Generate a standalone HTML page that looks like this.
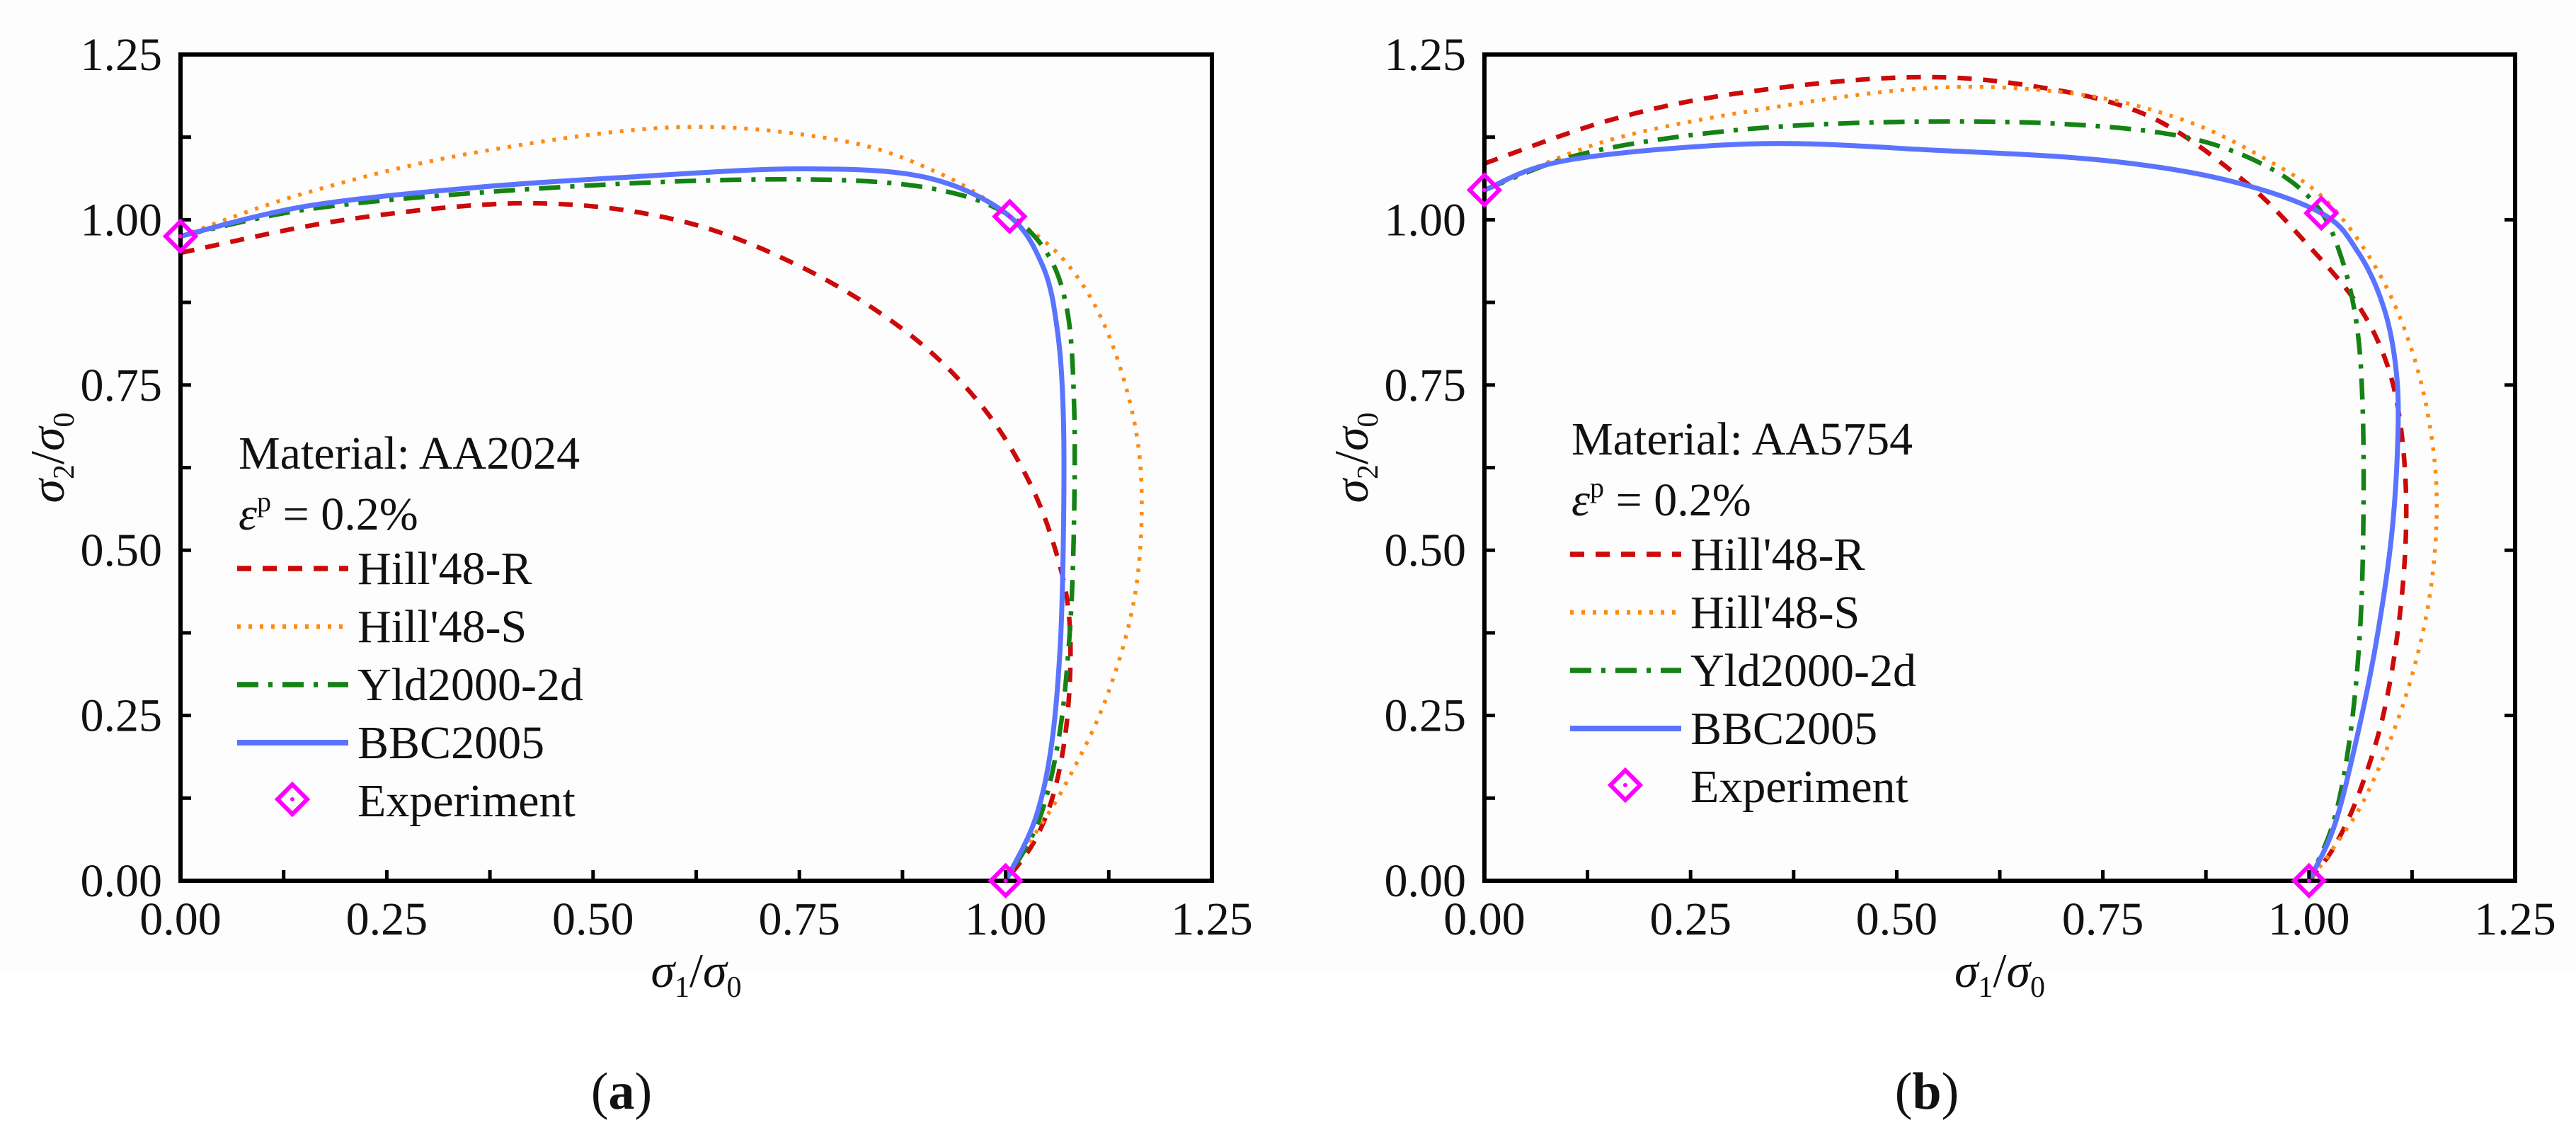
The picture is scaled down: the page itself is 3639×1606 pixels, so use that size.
<!DOCTYPE html>
<html><head><meta charset="utf-8">
<style>
html,body{margin:0;padding:0;background:#fff;}
svg{display:block;}
text{font-family:"Liberation Serif",serif;fill:#111;}
</style></head>
<body>
<svg id="fig" width="3639" height="1606" viewBox="0 0 3639 1606" xmlns="http://www.w3.org/2000/svg">
<rect x="0" y="0" width="3639" height="1376" fill="#fdfdfd"/>
</svg>
<script>
// ---- Data (panel a: AA2024) ----
const xTicks = [0, 0.25, 0.5, 0.75, 1.0, 1.25];
const yTicks = [0, 0.25, 0.5, 0.75, 1.0, 1.25];
const tickLabels = ["0.00","0.25","0.50","0.75","1.00","1.25"];
const seriesNames = ["Hill'48-R","Hill'48-S","Yld2000-2d","BBC2005"];

const aHillR_x = [0,0.2,0.42,0.6,0.75,0.88,0.97,1.03,1.065,1.078,1.075,1.06,1.035,1.0];
const aHillR_y = [0.95,1.0,1.025,1.0,0.93,0.83,0.72,0.6,0.48,0.38,0.25,0.14,0.06,0];
const aHillS_x = [0,0.15,0.35,0.6,0.8,0.92,1.0,1.07,1.12,1.155,1.165,1.155,1.12,1.07,1.03,1.0];
const aHillS_y = [0.975,1.04,1.1,1.14,1.12,1.07,1.01,0.94,0.84,0.7,0.57,0.42,0.27,0.14,0.06,0];
const aYld_x = [0,0.15,0.35,0.6,0.8,0.92,1.0,1.05,1.075,1.083,1.083,1.078,1.065,1.04,1.0];
const aYld_y = [0.975,1.015,1.04,1.058,1.06,1.045,1.01,0.95,0.86,0.72,0.55,0.38,0.22,0.09,0];
const aBBC_x = [0,0.15,0.35,0.55,0.75,0.9,1.0,1.045,1.063,1.07,1.07,1.066,1.055,1.035,1.0];
const aBBC_y = [0.975,1.02,1.048,1.065,1.077,1.065,1.01,0.93,0.83,0.7,0.52,0.35,0.2,0.09,0];
const aExp_x = [0, 1.005, 1.0];
const aExp_y = [0.975, 1.005, 0.0];

// ---- Data (panel b: AA5754) ----
const bHillR_x = [0,0.15,0.3,0.5,0.65,0.8,0.92,1.0,1.06,1.095,1.112,1.118,1.11,1.09,1.06,1.03,1.0];
const bHillR_y = [1.085,1.15,1.19,1.215,1.205,1.16,1.06,0.96,0.87,0.78,0.68,0.55,0.4,0.25,0.13,0.05,0];
const bHillS_x = [0,0.15,0.35,0.55,0.72,0.85,0.95,1.02,1.08,1.12,1.145,1.155,1.145,1.115,1.07,1.03,1.0];
const bHillS_y = [1.045,1.12,1.17,1.2,1.19,1.15,1.09,1.03,0.93,0.82,0.7,0.57,0.42,0.27,0.13,0.05,0];
const bYld_x = [0,0.12,0.3,0.5,0.7,0.85,0.95,1.01,1.04,1.058,1.065,1.066,1.062,1.05,1.03,1.0];
const bYld_y = [1.045,1.1,1.135,1.148,1.145,1.125,1.08,1.02,0.94,0.84,0.72,0.55,0.38,0.22,0.09,0];
const bBBC_x = [0,0.1,0.33,0.55,0.75,0.9,1.015,1.06,1.09,1.105,1.108,1.1,1.08,1.055,1.03,1.0];
const bBBC_y = [1.045,1.09,1.115,1.105,1.09,1.06,1.01,0.95,0.87,0.78,0.68,0.52,0.35,0.2,0.08,0];
const bExp_x = [0, 1.015, 1.0];
const bExp_y = [1.045, 1.01, 0.0];

const NS = "http://www.w3.org/2000/svg";
const svg = document.getElementById("fig");
function mk(tag, attrs, parent){
  const e = document.createElementNS(NS, tag);
  for (const k in attrs) e.setAttribute(k, attrs[k]);
  (parent||svg).appendChild(e);
  return e;
}
const styles = [
  {color:"#cc0a0a", w:6.5, dash:"20 16"},
  {color:"#ff8a12", w:5.5, dash:"5 11"},
  {color:"#148214", w:6.5, dash:"30 14 6 14"},
  {color:"#5b74ff", w:7, dash:""}
];
function smoothPath(pts){
  let d = "M"+pts[0][0].toFixed(1)+","+pts[0][1].toFixed(1);
  for (let i=0;i<pts.length-1;i++){
    const p0=pts[Math.max(0,i-1)], p1=pts[i], p2=pts[i+1], p3=pts[Math.min(pts.length-1,i+2)];
    const c1=[p1[0]+(p2[0]-p0[0])/6, p1[1]+(p2[1]-p0[1])/6];
    const c2=[p2[0]-(p3[0]-p1[0])/6, p2[1]-(p3[1]-p1[1])/6];
    d+=" C"+c1[0].toFixed(1)+","+c1[1].toFixed(1)+" "+c2[0].toFixed(1)+","+c2[1].toFixed(1)+" "+p2[0].toFixed(1)+","+p2[1].toFixed(1);
  }
  return d;
}
function diamond(g, cx, cy, name){
  const r=21;
  const p = mk("polygon",{points:`${cx},${cy-r} ${cx+r},${cy} ${cx},${cy+r} ${cx-r},${cy}`,fill:"none",stroke:"#ff00ff","stroke-width":6},g);
  
  
  const c = mk("circle",{cx:cx,cy:cy,r:3,fill:"#ff00ff"},g);
  
  
}

function panel(id, L, R, T, B, series, expX, expY, opts){
  const g = mk("g",{});
  
  
  const sx = v => L + (R-L)*v/1.25;
  const sy = v => B - (B-T)*v/1.25;
  series.forEach((s,i)=>{
    const pts = s[0].map((xv,k)=>[sx(xv), sy(s[1][k])]);
    const st = styles[i];
    const p = mk("path",{d:smoothPath(pts),fill:"none",stroke:st.color,"stroke-width":st.w,"stroke-dasharray":st.dash,"stroke-linecap":"butt","stroke-linejoin":"round"},g);
    
    
  });
  const f = mk("rect",{x:L,y:T,width:R-L,height:B-T,fill:"none",stroke:"#000","stroke-width":6},g);
  
  
  for (let k=0;k<=10;k++){
    const v = k*0.125;
    const len = 15;
    const tx = mk("line",{x1:sx(v),x2:sx(v),y1:B,y2:B-len,stroke:"#000","stroke-width":5},g);
    
    
    const ty = mk("line",{x1:L,x2:L+len,y1:sy(v),y2:sy(v),stroke:"#000","stroke-width":5},g);
    
    
    if (opts.rightTicks && k%2===0){
      const tr = mk("line",{x1:R,x2:R-len,y1:sy(v),y2:sy(v),stroke:"#000","stroke-width":5},g);
      
      
    }
  }
  xTicks.forEach((v,i)=>{
    const t = mk("text",{x:sx(v),y:B+76,"font-size":66,"text-anchor":"middle"},g);
    t.textContent = tickLabels[i];
    
    
  });
  yTicks.forEach((v,i)=>{
    const t = mk("text",{x:L-26,y:sy(v)+22,"font-size":66,"text-anchor":"end"},g);
    t.textContent = tickLabels[i];
    
    
  });
  const xt = mk("text",{x:(L+R)/2,y:B+150,"font-size":68,"text-anchor":"middle"},g);
  xt.innerHTML = '<tspan font-style="italic">σ</tspan><tspan font-size="42" dy="14">1</tspan><tspan dy="-14">/</tspan><tspan font-style="italic">σ</tspan><tspan font-size="42" dy="14">0</tspan>';
  
  
  const yt = mk("text",{x:0,y:0,"font-size":68,"text-anchor":"middle",transform:`translate(${opts.ytx},${(T+B)/2-14}) rotate(-90)`},g);
  yt.innerHTML = '<tspan font-style="italic">σ</tspan><tspan font-size="42" dy="14">2</tspan><tspan dy="-14">/</tspan><tspan font-style="italic">σ</tspan><tspan font-size="42" dy="14">0</tspan>';
  
  
  expX.forEach((v,k)=> diamond(g, sx(v), sy(expY[k]), 'experiment-point'));
  const lg = mk("g",{},g);
  
  
  const lx = opts.lx, ly = opts.ly, gap = 82;
  const m = mk("text",{x:lx,y:ly,"font-size":66},lg);
  m.textContent = "Material: "+opts.material;
  
  
  const e = mk("text",{x:lx,y:ly+gap+4,"font-size":66},lg);
  e.innerHTML = '<tspan font-style="italic">ε</tspan><tspan font-size="40" dy="-26">p</tspan><tspan dy="26"> = 0.2%</tspan>';
  
  
  seriesNames.forEach((n,i)=>{
    const y = ly + gap*(i+2) - 3 ;
    const st = styles[i];
    const ln = mk("line",{x1:lx-2,x2:lx+155,y1:y-20,y2:y-20,stroke:st.color,"stroke-width":st.w+1,"stroke-dasharray":st.dash},lg);
    
    
    const t = mk("text",{x:lx+168,y:y+2,"font-size":66},lg);
    t.textContent = n;
    
    
  });
  const ey = ly + gap*6 - 3;
  diamond(lg, lx+76, ey-22, 'legend-experiment-marker');
  const et = mk("text",{x:lx+168,y:ey+2,"font-size":66},lg);
  et.textContent = "Experiment";
  
  
  const c = mk("text",{x:opts.capx,y:1566,"font-size":74,"text-anchor":"middle"},g);
  c.innerHTML = '(<tspan font-weight="bold">'+id+'</tspan>)';
  
  
}

panel("a", 255, 1712, 77, 1244,
  [[aHillR_x,aHillR_y],[aHillS_x,aHillS_y],[aYld_x,aYld_y],[aBBC_x,aBBC_y]],
  aExp_x, aExp_y,
  {rightTicks:false, ytx:90, lx:337, ly:662, material:"AA2024", capx:878});
panel("b", 2097, 3553, 77, 1244,
  [[bHillR_x,bHillR_y],[bHillS_x,bHillS_y],[bYld_x,bYld_y],[bBBC_x,bBBC_y]],
  bExp_x, bExp_y,
  {rightTicks:true, ytx:1932, lx:2220, ly:642, material:"AA5754", capx:2722});
</script>
</body></html>
